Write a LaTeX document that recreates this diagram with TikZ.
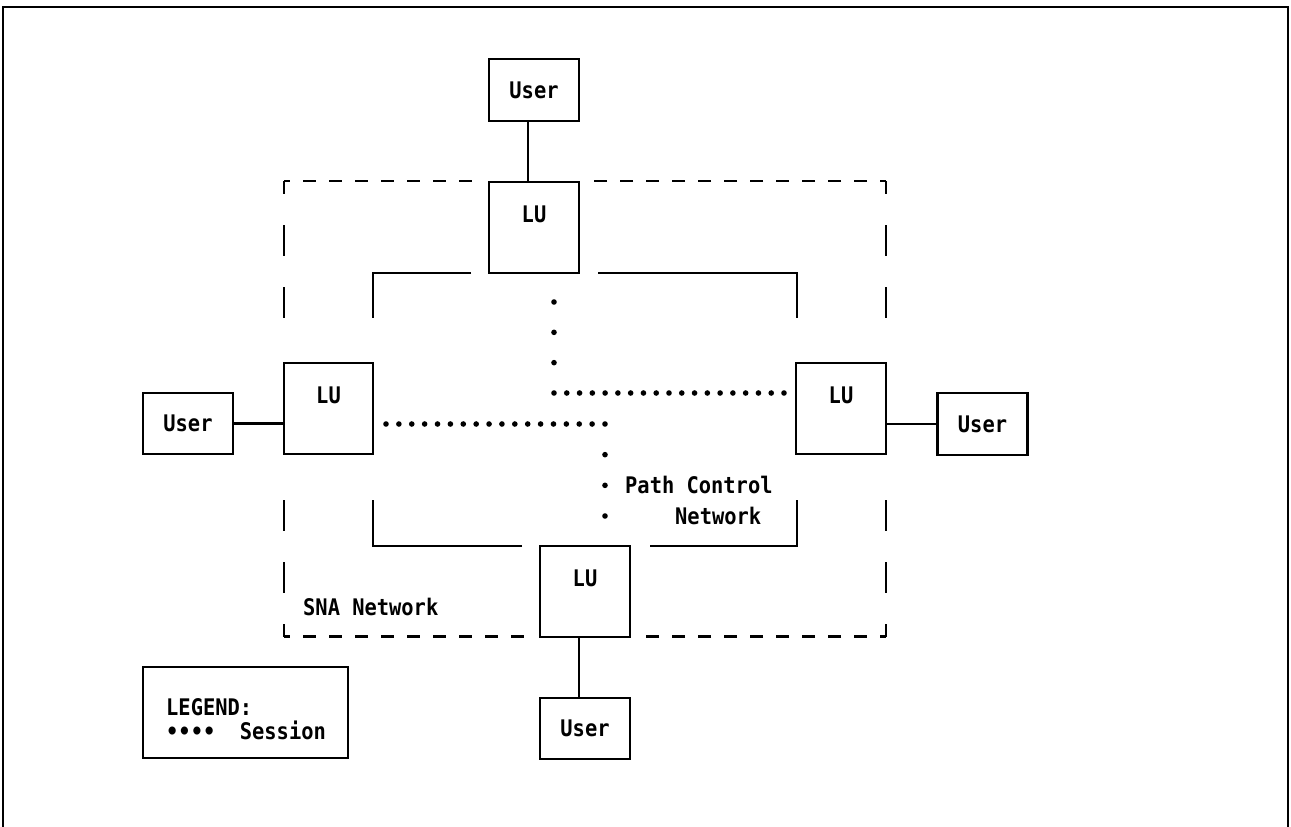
\documentclass[tikz,border=0pt]{standalone}
\usepackage{fontspec}
\usepackage{graphicx}
\newfontfamily\mono{DejaVu Sans Mono}
\newcommand{\tallt}[1]{\scalebox{1}[1.12]{#1}}
\usetikzlibrary{calc}
\tikzset{
  box/.style={draw, line width=2.2pt, inner sep=0pt, minimum width=90pt},
  ubox/.style={box, minimum height=62pt},
  lubox/.style={box, minimum height=91pt},
  legbox/.style={box, minimum width=205pt, minimum height=91pt},
  tx/.style={font=\mono\bfseries\fontsize{20.4}{24}\selectfont, inner sep=0pt},
  conn/.style={line width=2.2pt},
  hdash/.style={line width=2.2pt, dash pattern=on 13pt off 13pt, dash phase=7pt},
  vdash/.style={line width=2.2pt, dash pattern=on 31pt off 31pt, dash phase=18pt},
  frame/.style={line width=2.5pt},
  sdot/.style={fill=black}
}
\begin{document}
\begin{tikzpicture}[x=1pt,y=-1pt]
\useasboundingbox (0,0) rectangle (1291,827);
% outer frame
\draw[frame] (3,827) -- (3,7) -- (1288,7) -- (1288,827);

% boxes
\node[ubox] (u1) at (534,90) {};
\node[lubox] (lu1) at (534,227.5) {};
\node[lubox, minimum width=89pt] (lu2) at (328.5,408.5) {};
\node[ubox, minimum height=61pt] (u2) at (188,423.5) {};
\node[lubox] (lu3) at (841,408.5) {};
\node[ubox] (u3) at (982.5,424) {};
\node[lubox] (lu4) at (585,591.5) {};
\node[ubox, minimum height=61pt] (u4) at (585,728.5) {};
\node[legbox] (leg) at (245.5,712.5) {};

% box texts
\node[tx] (u1t) at (u1) {\tallt{User}};
\node[tx] (u2t) at (u2) {\tallt{User}};
\node[tx] (u3t) at (u3) {\tallt{User}};
\node[tx] (u4t) at (u4) {\tallt{User}};
\node[tx] (lu1t) at ([yshift=-33pt]lu1.north) {\tallt{LU}};
\node[tx] (lu2t) at ([yshift=-33pt]lu2.north) {\tallt{LU}};
\node[tx] (lu3t) at ([yshift=-33pt]lu3.north) {\tallt{LU}};
\node[tx] (lu4t) at ([yshift=-33pt]lu4.north) {\tallt{LU}};

% connectors
\draw[conn] ([xshift=-6pt]u1.south) -- ([xshift=-6pt]lu1.north);
\draw[conn] ([xshift=-6pt]lu4.south) -- ([xshift=-6pt]u4.north);
\draw[conn] (u2.east) -- (u2.east -| lu2.west);
\draw[conn] (u3.west) -- (u3.west -| lu3.east);

% SNA network dashed boundary
\draw[hdash] (284,181) -- (478,181);
\draw[hdash] (886,181) -- (590,181);
\draw[hdash] (284,636.5) -- (530,636.5);
\draw[hdash] (886,636.5) -- (640,636.5);
\draw[vdash] (284,181) -- (284,345);
\draw[vdash] (284,636.5) -- (284,470);
\draw[vdash] (886,181) -- (886,345);
\draw[vdash] (886,636.5) -- (886,470);

% path control network
\draw[conn] (471,273) -- (373,273) -- (373,318);
\draw[conn] (598,273) -- (797,273) -- (797,318);
\draw[conn] (522,546) -- (373,546) -- (373,500);
\draw[conn] (650,546) -- (797,546) -- (797,500);

% sessions
\coordinate (s1a) at (554,302);
\coordinate (s1b) at (554,393);
\coordinate (s1c) at (784,393);
\coordinate (s2a) at (386,424);
\coordinate (s2b) at (605,424);
\coordinate (s2c) at (605,516);
\foreach \i in {0,...,3} \fill[sdot] ($(s1a)!\i/3!(s1b)$) circle (2.8pt);
\foreach \i in {1,...,18} \fill[sdot] ($(s1b)!\i/18!(s1c)$) circle (2.8pt);
\foreach \i in {0,...,17} \fill[sdot] ($(s2a)!\i/17!(s2b)$) circle (2.8pt);
\foreach \i in {1,...,3} \fill[sdot] ($(s2b)!\i/3!(s2c)$) circle (2.8pt);

% labels
\node[tx, anchor=west] (pc1) at (625,485) {\tallt{Path Control}};
\node[tx, anchor=west] (pc2) at (675,516) {\tallt{Network}};
\node[tx, anchor=west] (sna) at (303,607) {\tallt{SNA Network}};
\node[tx, anchor=west] (lg1) at (166,707) {\tallt{LEGEND:}};
\node[tx, anchor=west] (lg2) at (166,730) {\tallt{••••\ \ Session}};
\end{tikzpicture}
\end{document}
